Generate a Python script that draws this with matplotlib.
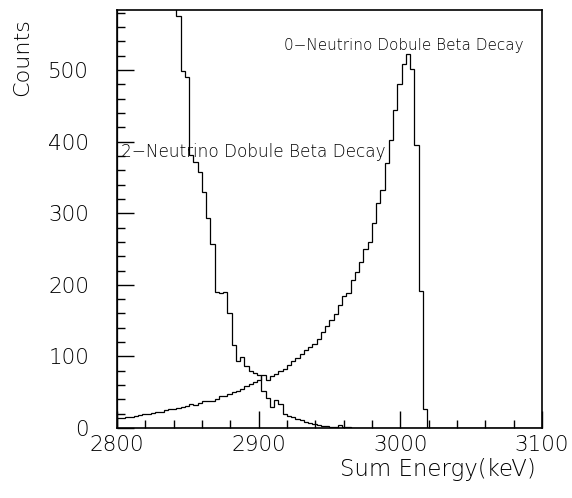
import numpy as np
import matplotlib
matplotlib.use('Agg')
import matplotlib.pyplot as plt
from matplotlib.ticker import MultipleLocator

plt.rcParams.update({'font.family': 'DejaVu Sans', 'font.size': 15.5,
                     'font.weight': 'light', 'axes.labelweight': 'light'})

# 100 bins of 3 keV between 2800 and 3100 keV
bin_edges = np.linspace(2800, 3100, 101)

# 2-neutrino spectrum (first bins run off the top of the frame)
counts_2nu = [
    2150, 2020, 1900, 1780, 1660, 1540, 1420, 1300, 1180, 1060,
    950, 840, 740, 650, 575, 499, 491, 382, 372, 357,
    329, 293, 257, 190, 188, 190, 160, 116, 93, 99,
    86, 80, 77, 74, 52, 42, 30, 39, 33, 20,
    17, 16, 12, 11, 9, 7, 5, 4, 3, 3,
    2, 2, 4, 1, 1, 0, 0, 0, 0, 0,
    0, 0, 0, 0, 0, 0, 0, 0, 0, 0,
    0, 0, 0, 0, 0, 0, 0, 0, 0, 0,
    0, 0, 0, 0, 0, 0, 0, 0, 0, 0,
    0, 0, 0, 0, 0, 0, 0, 0, 0, 0,
]

# 0-neutrino spectrum
counts_0nu = [
    14, 14, 15, 16, 17, 18, 19, 19, 21, 22,
    23, 25, 26, 27, 28, 30, 31, 34, 32, 35,
    37, 37, 38, 41, 44, 45, 48, 50, 52, 55,
    58, 61, 64, 67, 74, 67, 73, 76, 79, 83,
    88, 93, 98, 103, 109, 113, 118, 124, 134, 143,
    151, 159, 172, 184, 188, 207, 218, 232, 250, 260,
    287, 314, 332, 370, 402, 444, 481, 509, 523, 502,
    395, 192, 27, 0, 0, 0, 0, 0, 0, 0,
    0, 0, 0, 0, 0, 0, 0, 0, 0, 0,
    0, 0, 0, 0, 0, 0, 0, 0, 0, 0,
]

fig = plt.figure(figsize=(5.72, 4.98), dpi=100)
ax = fig.add_axes([0.2045, 0.1406, 0.743, 0.8394])

ax.stairs(counts_2nu, bin_edges, color='black', lw=0.9)
ax.stairs(counts_0nu, bin_edges, color='black', lw=0.9)

ax.set_xlim(2800, 3100)
ax.set_ylim(0, 584)

ax.xaxis.set_major_locator(MultipleLocator(100))
ax.xaxis.set_minor_locator(MultipleLocator(20))
ax.yaxis.set_major_locator(MultipleLocator(100))
ax.yaxis.set_minor_locator(MultipleLocator(20))
ax.tick_params(which='both', direction='in', width=1, color='black')
ax.tick_params(which='major', length=12)
ax.tick_params(which='minor', length=5.5)
ax.tick_params(axis='y', pad=20)
ax.tick_params(axis='x', pad=5)
for s in ax.spines.values():
    s.set_linewidth(1.2)

ax.text(2918, 535, '0\u2212Neutrino Dobule Beta Decay', fontsize=11, va='center')
ax.text(2803, 385, '2\u2212Neutrino Dobule Beta Decay', fontsize=12.2, va='center')

ax.set_xlabel('Sum Energy(keV)', fontsize=16.5)
ax.xaxis.set_label_coords(0.985, -0.072)
ax.xaxis.label.set_ha('right')
ax.set_ylabel('Counts', fontsize=16)
ax.yaxis.set_label_coords(-0.2, 0.98)
ax.yaxis.label.set_va('bottom')
ax.yaxis.label.set_ha('right')

fig.savefig('out.png', dpi=100)
